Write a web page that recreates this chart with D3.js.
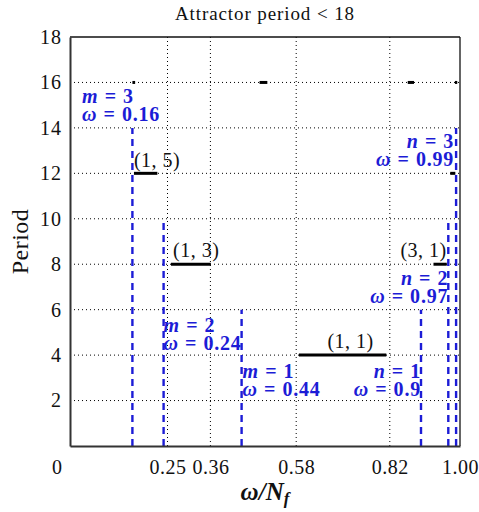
<!DOCTYPE html>
<html>
<head>
<meta charset="utf-8">
<script src="https://cdn.jsdelivr.net/npm/d3@7"></script>
<style>
  html, body { margin: 0; padding: 0; background: #fff; }
  svg { display: block; }
  text { font-family: "Liberation Serif", "Times New Roman", serif; }
</style>
</head>
<body>
<svg id="chart" width="479" height="512"></svg>
<script>
// Frequency ticks on the ω/N_f axis and period ticks
const xTickValues = [0, 0.25, 0.36, 0.58, 0.82, 1.0];
const xTickLabels = ["0", "0.25", "0.36", "0.58", "0.82", "1.00"];
const yTickValues = [2, 4, 6, 8, 10, 12, 14, 16, 18];

// Locked plateaus: period, start and end of each ω interval
const plateauLabels = ["(1, 5)", "(1, 3)", "(1, 1)", "(3, 1)", "", "", "", "", ""];
const plateauPeriods = [12, 8, 4, 8, 12, 16, 16, 16, 16];
const plateauStarts = [0.164, 0.259, 0.587, 0.932, 0.975, 0.160, 0.486, 0.866, 0.987];
const plateauEnds = [0.224, 0.361, 0.811, 0.966, 0.988, 0.167, 0.506, 0.882, 0.993];

// Boundary frequencies (blue dashed lines)
const boundaryNames = ["m", "m", "m", "n", "n", "n"];
const boundaryOrders = [3, 2, 1, 1, 2, 3];
const boundaryOmegas = [0.16, 0.24, 0.44, 0.9, 0.97, 0.99];
const boundaryTops = [14, 10, 6, 6, 10, 14];

const svg = d3.select("#chart");
const margin = { left: 70, right: 19, top: 37, bottom: 66 };
const W = 479, H = 512;

const x = d3.scaleLinear().domain([0, 1]).range([margin.left, W - margin.right]);
const y = d3.scaleLinear().domain([0, 18]).range([H - margin.bottom, margin.top]);

const blue = "#1c1cd6";

// Dotted grid
const grid = svg.append("g");
grid.selectAll("line.gx")
  .data(xTickValues.filter(v => v > 0 && v < 1))
  .join("line")
  .attr("x1", d => x(d)).attr("x2", d => x(d))
  .attr("y1", y(0)).attr("y2", y(18))
  .attr("stroke", "#000").attr("stroke-width", 1)
  .attr("stroke-dasharray", "1,3");
grid.selectAll("line.gy")
  .data(yTickValues.filter(v => v < 18))
  .join("line")
  .attr("x1", x(0)).attr("x2", x(1))
  .attr("y1", d => y(d)).attr("y2", d => y(d))
  .attr("stroke", "#000").attr("stroke-width", 1)
  .attr("stroke-dasharray", "1,3");

// Frame: top and right edges
svg.append("line").attr("x1", x(0)).attr("x2", x(1)).attr("y1", y(18)).attr("y2", y(18))
  .attr("stroke", "#111").attr("stroke-width", 1.3);
svg.append("line").attr("x1", x(1)).attr("x2", x(1)).attr("y1", y(0)).attr("y2", y(18))
  .attr("stroke", "#111").attr("stroke-width", 1.3);

// Boundary dashed lines
svg.append("g").selectAll("line")
  .data(boundaryOmegas)
  .join("line")
  .attr("x1", d => x(d)).attr("x2", d => x(d))
  .attr("y1", y(0)).attr("y2", (d, i) => y(boundaryTops[i]))
  .attr("stroke", blue).attr("stroke-width", 2.4)
  .attr("stroke-dasharray", "7,5");

// Plateau segments
svg.append("g").selectAll("line")
  .data(plateauPeriods)
  .join("line")
  .attr("x1", (d, i) => x(plateauStarts[i]))
  .attr("x2", (d, i) => x(plateauEnds[i]))
  .attr("y1", d => y(d)).attr("y2", d => y(d))
  .attr("stroke", "#000").attr("stroke-width", 3);

// Bottom and left axes
const xAxis = d3.axisBottom(x).tickValues(xTickValues)
  .tickFormat((d, i) => xTickLabels[i]).tickSize(0).tickPadding(14);
const gx = svg.append("g").attr("transform", `translate(0,${y(0)})`).call(xAxis);
gx.select(".domain").attr("stroke", "#333").attr("stroke-width", 2);
gx.selectAll("text").attr("font-size", 20).attr("fill", "#111")
  .style("font-family", "'Liberation Serif', serif").attr("letter-spacing", 0.5);
// origin label sits under the period labels
gx.selectAll(".tick").filter(d => d === 0).select("text")
  .attr("text-anchor", "end").attr("dx", -8);

const yAxis = d3.axisLeft(y).tickValues(yTickValues).tickSize(0).tickPadding(8);
const gy = svg.append("g").attr("transform", `translate(${x(0)},0)`).call(yAxis);
gy.select(".domain").attr("stroke", "#333").attr("stroke-width", 2);
gy.selectAll("text").attr("font-size", 20).attr("fill", "#111")
  .style("font-family", "'Liberation Serif', serif").attr("letter-spacing", 1);

// Plateau labels (offsets from each segment)
const labelPlacement = [
  { at: "start", dx: 0, dy: -6 },
  { at: "start", dx: 2, dy: -7 },
  { at: "mid", dx: 8, dy: -7 },
  { at: "end", dx: 0, dy: -7 }
];
plateauLabels.forEach((lab, i) => {
  if (!lab) return;
  const p = labelPlacement[i];
  const xs = p.at === "start" ? x(plateauStarts[i])
    : p.at === "end" ? x(plateauEnds[i])
    : (x(plateauStarts[i]) + x(plateauEnds[i])) / 2;
  svg.append("text")
    .attr("x", xs + p.dx).attr("y", y(plateauPeriods[i]) + p.dy)
    .attr("text-anchor", p.at === "start" ? "start" : p.at === "end" ? "end" : "middle")
    .attr("font-size", 20).attr("letter-spacing", 0.5).attr("fill", "#111")
    .text(lab);
});

// Boundary labels: anchor side, horizontal offset, baseline of the first line (in period units)
const boundaryLabelPlacement = [
  { anchor: "start", fx: 0.031, py: 15.1 },
  { anchor: "start", fx: null, dx: 0, py: 5.0 },
  { anchor: "start", fx: null, dx: 1, py: 3.0 },
  { anchor: "end", fx: null, dx: 0, py: 3.0 },
  { anchor: "end", fx: null, dx: 0, py: 7.1 },
  { anchor: "end", fx: null, dx: -2, py: 13.1 }
];
function mathLine(g, lx, ly, sym, val) {
  const t = g.append("text").attr("x", lx).attr("y", ly);
  t.append("tspan").attr("font-style", "italic").text(sym);
  t.append("tspan").attr("dx", 7).text("=");
  t.append("tspan").attr("dx", 7).attr("letter-spacing", 0.8).text(val);
}
boundaryOmegas.forEach((w, i) => {
  const p = boundaryLabelPlacement[i];
  const lx = p.fx !== null ? x(p.fx) : x(w) + p.dx;
  const g = svg.append("g").attr("fill", blue).attr("font-weight", "bold")
    .attr("font-size", 20).attr("text-anchor", p.anchor);
  mathLine(g, lx, y(p.py), boundaryNames[i], String(boundaryOrders[i]));
  mathLine(g, lx, y(p.py) + 18, "ω", String(w));
});

// Titles
svg.append("text").attr("x", (x(0) + x(1)) / 2).attr("y", 20)
  .attr("text-anchor", "middle").attr("font-size", 19).attr("letter-spacing", 0.9)
  .attr("fill", "#111")
  .text("Attractor period < 18");

svg.append("text")
  .attr("transform", `translate(28,${(y(0) + y(18)) / 2}) rotate(-90)`)
  .attr("text-anchor", "middle").attr("font-size", 24).attr("letter-spacing", 0.5)
  .attr("fill", "#111")
  .text("Period");

const xl = svg.append("text").attr("x", (x(0) + x(1)) / 2).attr("y", 500)
  .attr("text-anchor", "middle").attr("font-size", 25).attr("font-weight", "bold")
  .attr("font-style", "italic").attr("fill", "#111");
xl.append("tspan").text("ω/N");
xl.append("tspan").attr("font-size", 17).attr("dy", 4).text("f");
</script>
</body>
</html>
